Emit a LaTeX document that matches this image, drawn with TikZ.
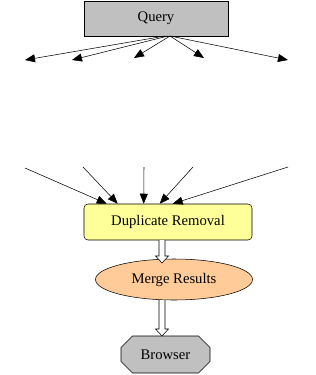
\documentclass[tikz,border=0pt]{standalone}
\usepackage{fontspec}
\setmainfont{Liberation Serif}
\usetikzlibrary{arrows.meta,shapes.geometric,shapes.misc,calc}
\definecolor{qgray}{RGB}{192,192,192}
\definecolor{dupyellow}{RGB}{255,255,153}
\definecolor{mergepeach}{RGB}{255,204,153}

% hollow block arrow, drawn straight down from #1 to #2
\newcommand{\hollowarrow}[2]{%
  \draw[fill=white] ($(#1)+(-3,0)$) -- ($(#2)+(-3,-7)$) -- ($(#2)+(-6.5,-7)$) -- (#2)
    -- ($(#2)+(6.5,-7)$) -- ($(#2)+(3,-7)$) -- ($(#1)+(3,0)$);
}

\begin{document}
\begin{tikzpicture}[
      x=0.75pt, y=-0.75pt,
      box/.style={draw, font=\fontsize{11}{13}\selectfont, align=center},
      fan/.style={-{Triangle[length=7.5pt,width=6pt]}, black},
      every node/.append style={inner sep=2pt}
    ]
      \useasboundingbox (0,0) rectangle (315,375);

      \node[box, fill=qgray, minimum width=108pt, minimum height=26.25pt] (query) at (156,18.5) {Query};
      \node[box, fill=dupyellow, rounded corners=3pt, minimum width=126pt, minimum height=27pt] (dup) at (168,222) {Duplicate Removal};
      \node[box, ellipse, fill=mergepeach, minimum width=117.75pt, minimum height=30.75pt, inner sep=0pt] (merge) at (174,279.5) {Merge Results};
      \node[box, chamfered rectangle, chamfered rectangle xsep=7.5pt, fill=qgray, minimum width=66.75pt, minimum height=27.75pt] (brow) at (165.5,354.5) {Browser};

      % fan out from the query
      \coordinate (qsrc) at (170,36);
      \coordinate (out1) at (25,60);
      \coordinate (out2) at (72,60);
      \coordinate (out3) at (134,58);
      \coordinate (out4) at (204,58);
      \coordinate (out5) at (288,60);
      \draw[fan] ($(qsrc)+(-5,0)$) -- (out1);
      \draw[fan] ($(qsrc)+(-2,0)$) -- (out2);
      \foreach \i in {3,4,5}
        \draw[fan] (qsrc) -- (out\i);

      % fan in to duplicate removal
      \coordinate (in1) at (25,168);
      \coordinate (in2) at (83,167);
      \coordinate (in3) at (144,167);
      \coordinate (in4) at (193,167);
      \coordinate (in5) at (288,167);
      \draw[fan] (in1) -- ($(dup.north west)+(23,0)$);
      \draw[fan] (in2) -- ($(dup.north west)+(34,0)$);
      \draw[fan] (in3) -- ($(dup.north west)+(60,0)$);
      \draw[fan] (in4) -- ($(dup.north west)+(76,0)$);
      \draw[fan] (in5) -- ($(dup.north west)+(89,0)$);

      % result flow
      \coordinate (f1) at (162,240);
      \coordinate (f2) at (162,263);
      \coordinate (f3) at (162,300);
      \coordinate (f4) at (162,336);
      \hollowarrow{f1}{f2}
      \hollowarrow{f3}{f4}
    \end{tikzpicture}
\end{document}
